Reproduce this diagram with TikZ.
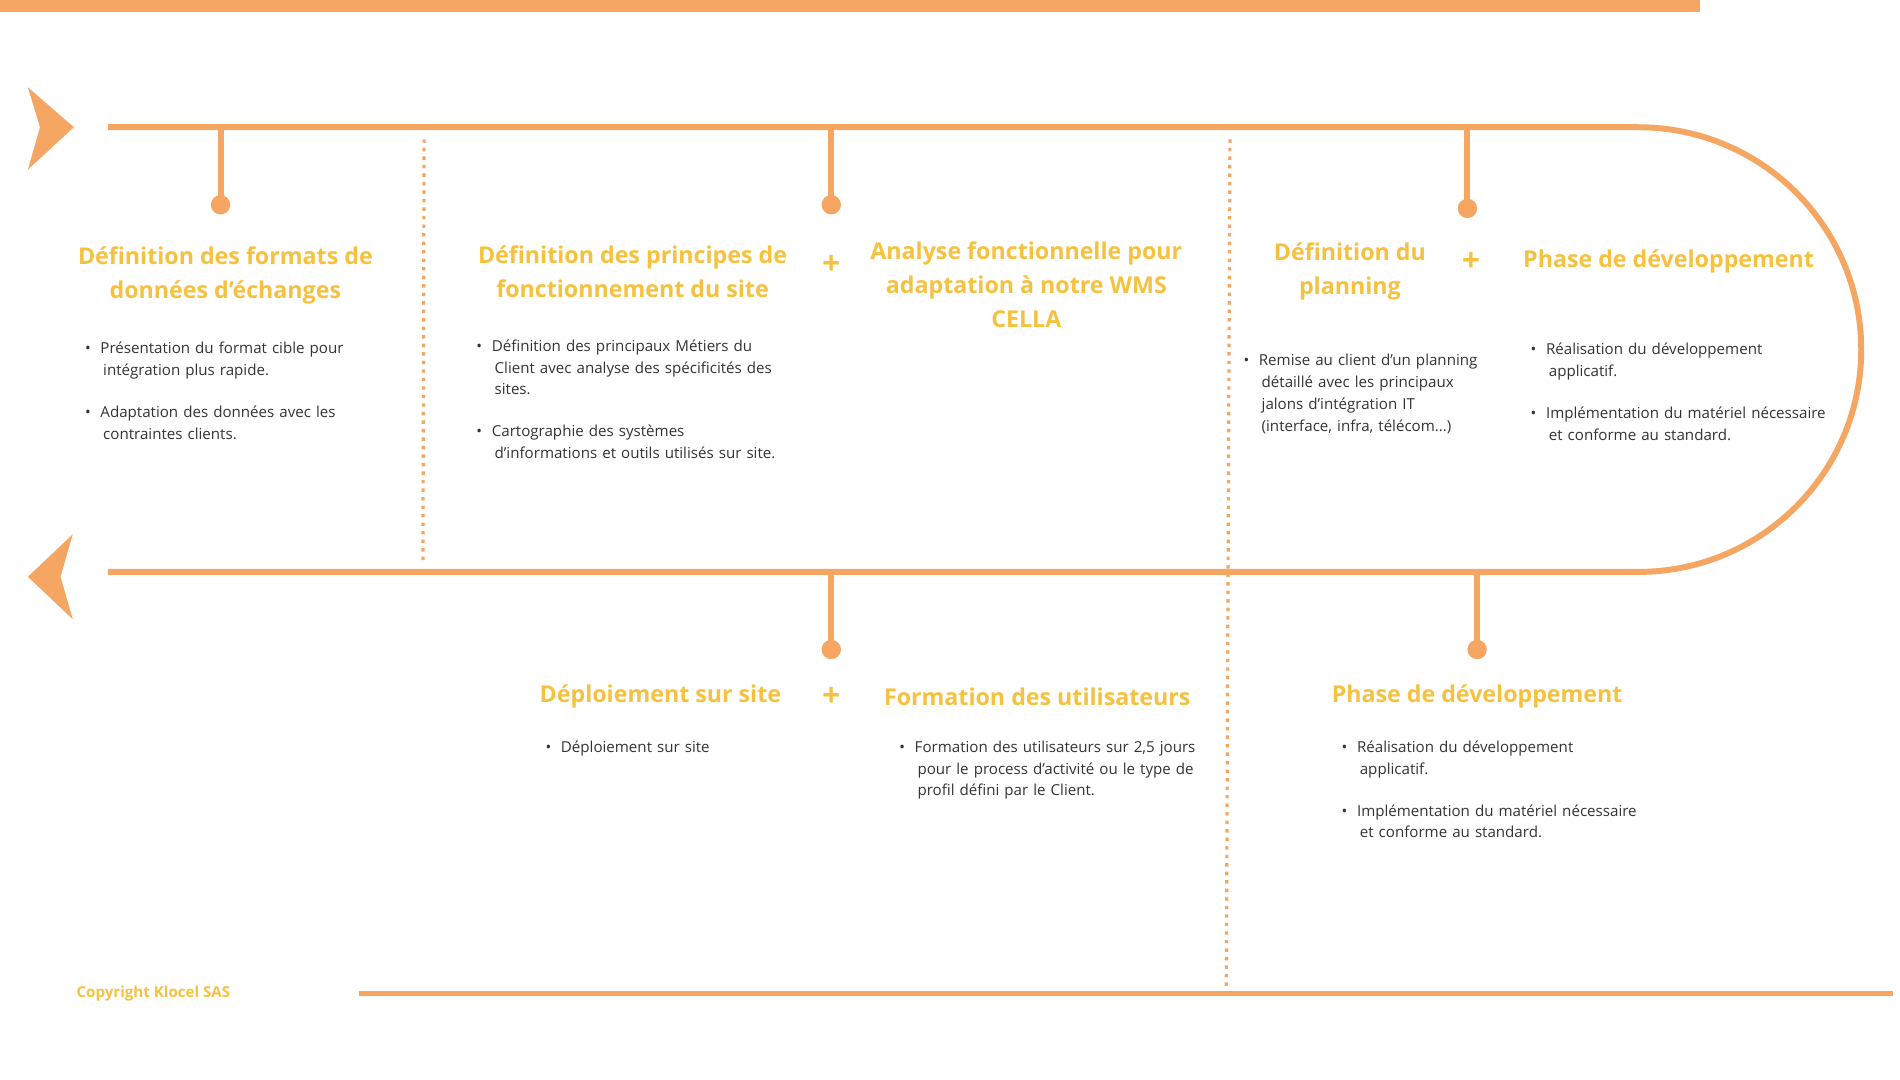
\documentclass[tikz,border=0pt]{standalone}
\usepackage{fontspec}
\setmainfont{Open Sans}
\definecolor{org}{HTML}{F5A662}
\definecolor{yel}{HTML}{F5C13F}
\definecolor{txt}{HTML}{333333}
\begin{document}
\begin{tikzpicture}[x=0.02cm,y=-0.02cm,
  ln/.style={org,line width=2.8pt},
  dotl/.style={org,line width=1.5pt,dash pattern=on 1.6pt off 2.4pt},
  dot/.style={circle,fill=org,inner sep=0pt,minimum size=0.32cm},
  ttl/.style={yel,font=\bfseries\fontsize{10.9}{16}\selectfont,align=center},
  pls/.style={yel,font=\bfseries\fontsize{15}{15}\selectfont},
  bl/.style={txt,font=\fontsize{7.1}{10.3}\selectfont,align=left,anchor=north west,text width=#1}]
\useasboundingbox (0,0) rectangle (1568,891);
\fill[org] (0,0) rectangle (1403,10);
\fill[org] (23,72) -- (61,105) -- (23,140) -- (33,105) -- cycle;
\fill[org] (60,441) -- (23,476) -- (60,511) -- (50,476) -- cycle;
\coordinate (t0) at (89,105); \coordinate (t1) at (1352,105);
\coordinate (b0) at (89,472); \coordinate (b1) at (1352,472);
\draw[ln] (t0) -- (t1) arc[start angle=90,end angle=-90,x radius=184,y radius=-183.5] -- (b0);
\draw[ln,line width=2pt] (296,820) -- (1562,820);
% stems
\foreach \n/\x/\ya/\yb in {s1/182/105/169, s2/686/105/169, s3/1211/105/172, s4/686/472/536, s5/1219/472/536}{
  \node[dot] (\n) at (\x,\yb) {};
  \draw[ln] (\x,\ya) -- (\n.center);
}
\draw[dotl] (350,115) -- (349,465);
\draw[dotl] (1015,115) -- (1012,815);
% titles
\node[ttl] (T1) at (186,227) {Définition des formats de\\données d'échanges};
\node[ttl] (T2) at (522,224) {Définition des principes de\\fonctionnement du site};
\node[ttl] (T3) at (847,235) {Analyse fonctionnelle pour\\adaptation à notre WMS\\CELLA};
\node[ttl] (T4) at (1114,224) {Définition du\\planning};
\node[ttl] (T5) at (1377,216) {Phase de développement};
\node[ttl] (T6) at (545,575) {Déploiement sur site};
\node[ttl] (T7) at (856,575) {Formation des utilisateurs};
\node[ttl] (T8) at (1219,575) {Phase de développement};
\node[pls] (p1) at (686,219) {+};
\node[pls] (p2) at (1214,216) {+};
\node[pls] (p3) at (686,575) {+};
% bullets
\node[bl=4.9cm] (B1) at (64,276) {\textbullet\hspace{1.6mm}Présentation du format cible pour\\\hspace*{3mm}intégration plus rapide.\\[3.3mm]\textbullet\hspace{1.6mm}Adaptation des données avec les\\\hspace*{3mm}contraintes clients.};
\node[bl=6cm] (B2) at (387,274) {\textbullet\hspace{1.6mm}Définition des principaux Métiers du\\\hspace*{3mm}Client avec analyse des spécificités des\\\hspace*{3mm}sites.\\[3.3mm]\textbullet\hspace{1.6mm}Cartographie des systèmes\\\hspace*{3mm}d'informations et outils utilisés sur site.};
\node[bl=4.5cm] (B3) at (1020,286) {\textbullet\hspace{1.6mm}Remise au client d'un planning\\\hspace*{3mm}détaillé avec les principaux\\\hspace*{3mm}jalons d'intégration IT\\\hspace*{3mm}(interface, infra, télécom...)};
\node[bl=5.2cm] (B4) at (1257,277) {\textbullet\hspace{1.6mm}Réalisation du développement\\\hspace*{3mm}applicatif.\\[3.3mm]\textbullet\hspace{1.6mm}Implémentation du matériel nécessaire\\\hspace*{3mm}et conforme au standard.};
\node[bl=4cm] (B5) at (444,605) {\textbullet\hspace{1.6mm}Déploiement sur site};
\node[bl=5.2cm] (B6) at (736,605) {\textbullet\hspace{1.6mm}Formation des utilisateurs sur 2,5 jours\\\hspace*{3mm}pour le process d'activité ou le type de\\\hspace*{3mm}profil défini par le Client.};
\node[bl=5.2cm] (B7) at (1101,605) {\textbullet\hspace{1.6mm}Réalisation du développement\\\hspace*{3mm}applicatif.\\[3.3mm]\textbullet\hspace{1.6mm}Implémentation du matériel nécessaire\\\hspace*{3mm}et conforme au standard.};
\node[yel,font=\bfseries\fontsize{7.1}{9}\selectfont,anchor=west] (cp) at (57,820) {Copyright Klocel SAS};
\end{tikzpicture}
\end{document}
